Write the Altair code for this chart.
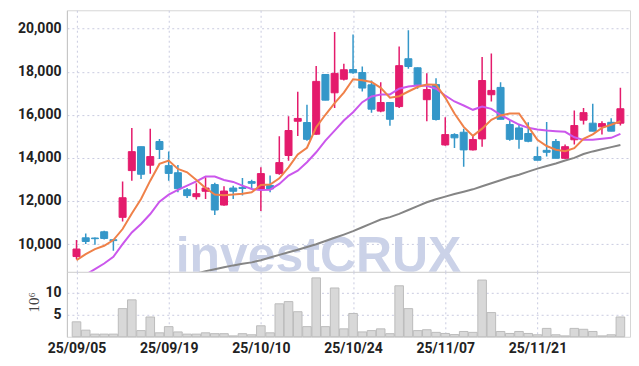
import altair as alt
import pandas as pd

dates = ["25/09/05", "25/09/08", "25/09/09", "25/09/10", "25/09/11", "25/09/12",
         "25/09/15", "25/09/16", "25/09/17", "25/09/18", "25/09/19",
         "25/09/22", "25/09/23", "25/09/24", "25/09/25", "25/09/26",
         "25/09/29", "25/09/30", "25/10/01", "25/10/02", "25/10/10",
         "25/10/13", "25/10/14", "25/10/15", "25/10/16", "25/10/17",
         "25/10/20", "25/10/21", "25/10/22", "25/10/23", "25/10/24",
         "25/10/27", "25/10/28", "25/10/29", "25/10/30", "25/10/31",
         "25/11/03", "25/11/04", "25/11/05", "25/11/06", "25/11/07",
         "25/11/10", "25/11/11", "25/11/12", "25/11/13", "25/11/14",
         "25/11/17", "25/11/18", "25/11/19", "25/11/20", "25/11/21",
         "25/11/24", "25/11/25", "25/11/26", "25/11/27", "25/11/28",
         "25/12/01", "25/12/02", "25/12/03", "25/12/04"]

opens = [9420, 10290, 10280, 10570, 10200, 11240, 13410, 14520, 13660, 14760,
         13640, 13310, 12520, 12200, 12450, 12760, 11810, 12600, 12630, 12900,
         12520, 12720, 13270, 14110, 15700, 15640, 15100, 17870, 17020, 17650,
         18100, 17960, 17390, 16170, 16570, 16380, 18600, 18180, 16700, 17400,
         14600, 15080, 15190, 14370, 14880, 16930, 17270, 15550, 15390, 15130,
         14060, 14350, 14760, 13980, 14840, 15750, 15610, 15440, 15650, 15610]
highs = [10190, 10490, 10300, 10620, 10230, 12900, 15390, 14520, 15350, 14880,
         14300, 13670, 12600, 12820, 13100, 12840, 12680, 12710, 13070, 12990,
         13560, 13180, 15000, 15930, 17070, 16460, 18260, 17880, 19840, 18370,
         19730, 18240, 17590, 17510, 16580, 19170, 19920, 18190, 17930, 17700,
         15890, 15140, 15350, 15040, 18680, 18840, 17510, 15730, 15550, 15650,
         14520, 15670, 14880, 14620, 16200, 16320, 16510, 15700, 15840, 17250]
lows = [9300, 10000, 9970, 10210, 9690, 11050, 12940, 13020, 13260, 13950,
        12940, 12400, 12140, 12070, 12090, 11350, 11780, 12090, 12250, 12560,
        11530, 12400, 13220, 13870, 15020, 14800, 15070, 16670, 16320, 17590,
        17900, 17080, 16090, 16120, 15490, 16320, 18140, 17210, 15700, 15730,
        14560, 14460, 13590, 14340, 14520, 16620, 15790, 14800, 14420, 14720,
        13890, 14060, 13980, 13950, 14620, 15550, 15230, 15080, 15230, 15500]
closes = [9770, 10120, 10250, 10260, 10160, 12150, 14290, 13240, 14060, 14390,
          13280, 12570, 12250, 12340, 12600, 11580, 12460, 12450, 12580, 12820,
          13270, 12560, 13780, 15270, 15830, 14860, 17550, 16680, 17920, 18090,
          17950, 17240, 16260, 16570, 15790, 18280, 18240, 17390, 17170, 15780,
          15080, 14930, 14370, 14850, 17590, 17130, 15790, 14860, 14860, 14770,
          13890, 14260, 13980, 14520, 15500, 16100, 15240, 15590, 15240, 16280]
volumes = [3.4, 1.5, 0.6, 0.6, 0.6, 6.4, 8.4, 1.4, 4.5, 0.9,
           2.3, 1.1, 0.6, 0.6, 0.9, 0.7, 0.7, 0.2, 0.7, 0.45,
           2.5, 0.9, 7.5, 8.0, 5.7, 2.3, 13.4, 2.3, 11.1, 1.8,
           5.3, 1.1, 1.4, 1.8, 0.7, 11.6, 6.4, 1.4, 1.6, 1.0,
           0.75, 0.5, 1.2, 1.0, 12.9, 5.5, 1.2, 0.75, 1.2, 0.75,
           0.45, 1.9, 0.45, 0.2, 1.9, 1.7, 1.2, 0.2, 0.45, 4.5]
ma5 = [9256, 9535, 9767, 9921, 10186, 10697, 11423, 12092, 12943, 13720,
       13873, 13488, 13330, 12976, 12604, 12300, 12270, 12300, 12340, 12400,
       12740, 12760, 13050, 13560, 14160, 14470, 15420, 16000, 16540, 17030,
       17650, 17600, 17520, 17250, 16790, 16860, 17080, 17290, 17410, 17390,
       16800, 16060, 15440, 15020, 15356, 15770, 15970, 16060, 16060, 15450,
       14836, 14550, 14380, 14310, 14450, 14880, 15090, 15390, 15540, 15700]
ma20 = [8330, 8580, 8837, 9098, 9409, 10000, 10541, 10930, 11395, 11967,
        12292, 12511, 12711, 12911, 13130, 13130, 12976, 12883, 12711, 12557,
        12511, 12525, 12790, 13176, 13408, 13795, 14260, 14804, 15268, 15733,
        16120, 16584, 16850, 16943, 16943, 17207, 17314, 17361, 17347, 17207,
        16896, 16617, 16431, 16231, 16385, 16277, 15998, 15766, 15547, 15394,
        15315, 15268, 15236, 15208, 14957, 14836, 14836, 14883, 14929, 15115]
ma60 = [7450, 7540, 7630, 7720, 7810, 7900, 7990, 8080, 8170, 8260,
        8360, 8450, 8540, 8630, 8740, 8830, 8920, 9010, 9090, 9150,
        9250, 9380, 9500, 9620, 9740, 9860, 9990, 10140, 10290, 10440,
        10600, 10780, 10960, 11140, 11250, 11400, 11580, 11760, 11940, 12080,
        12200, 12320, 12430, 12540, 12680, 12820, 12960, 13100, 13220, 13360,
        13500, 13620, 13740, 13880, 14000, 14180, 14300, 14400, 14500, 14600]

tick_idx = [0, 10, 20, 30, 40, 50]
price_ticks = [10000, 12000, 14000, 16000, 18000, 20000]
vol_ticks = [5, 10]

RED = "#e41b6c"
BLUE = "#3497c9"
FONT = "Roboto"
GRID = "#c9cbe0"

df = pd.DataFrame({
    "i": list(range(len(dates))), "date": dates,
    "open": opens, "high": highs, "low": lows, "close": closes,
    "vol": volumes, "ma5": ma5, "ma20": ma20, "ma60": ma60,
})

label_expr = " : ".join(f"datum.value == {i} ? '{dates[i]}'" for i in tick_idx) + " : ''"

xscale = alt.Scale(domain=[-0.5, len(dates) - 0.5], nice=False, zero=False)
x_top = alt.X("i:Q", scale=xscale, axis=alt.Axis(values=tick_idx, labels=False, ticks=False,
                                                 domain=False, title=None, grid=True))
x_bot = alt.X("i:Q", scale=xscale, axis=alt.Axis(values=tick_idx, labelExpr=label_expr, ticks=False,
                                                 domain=False, title=None, grid=True,
                                                 labelPadding=5, labelFontSize=14,
                                                 labelFont=FONT, labelFontWeight="bold",
                                                 labelColor="#222222"))

yscale = alt.Scale(domain=[8710, 20850], nice=False, zero=False)
updown = alt.condition("datum.close >= datum.open", alt.value(RED), alt.value(BLUE))

base = alt.Chart(df).encode(x=x_top)

watermark = alt.Chart(pd.DataFrame({"t": ["investCRUX"]})).mark_text(
    font="Liberation Sans", fontSize=50, fontWeight="bold", color="#cbd2e8",
    align="left", baseline="alphabetic", clip=True
).encode(text="t:N", x=alt.value(109), y=alt.value(262))

gray = base.mark_line(color="#858585", strokeWidth=2, clip=True).encode(
    y=alt.Y("ma60:Q", scale=yscale,
            axis=alt.Axis(values=price_ticks, format=",d", title=None, ticks=False,
                          labelPadding=6, labelFontSize=14, labelFont=FONT,
                          labelFontWeight="bold", labelColor="#222222",
                          domainColor="#c4c4c4", grid=True, minExtent=58)))
wicks = base.mark_rule(strokeWidth=1.5, clip=True).encode(
    y=alt.Y("low:Q", scale=yscale), y2="high:Q", color=updown)
bodies = base.mark_bar(size=7, strokeWidth=1, clip=True).encode(
    y=alt.Y("open:Q", scale=yscale), y2="close:Q", color=updown, stroke=updown)
orange = base.mark_line(color="#ef8149", strokeWidth=2, clip=True).encode(
    y=alt.Y("ma5:Q", scale=yscale))
purple = base.mark_line(color="#cb57ec", strokeWidth=2, clip=True).encode(
    y=alt.Y("ma20:Q", scale=yscale))

price = alt.layer(watermark, gray, wicks, bodies, purple, orange).properties(width=564, height=262)

volume = alt.Chart(df).mark_bar(size=8.6, fill="#d8d8d8", stroke="#bcbcbc", strokeWidth=1).encode(
    x=x_bot,
    y=alt.Y("vol:Q", scale=alt.Scale(domain=[0, 14.77], nice=False),
            axis=alt.Axis(values=vol_ticks, format="d", title="10⁶", ticks=False,
                          labelPadding=6, labelFontSize=14, labelFont=FONT,
                          labelFontWeight="bold", labelColor="#222222",
                          domainColor="#c4c4c4", grid=True, minExtent=58,
                          titleFont="Liberation Serif", titleFontSize=15,
                          titleFontWeight="normal", titleColor="#444444",
                          titleX=-33, titleY=30, titleBaseline="middle", titleAlign="center"))
).properties(width=564, height=65)

chart = alt.vconcat(price, volume, spacing=0, bounds="flush").properties(
    padding={"left": 0, "top": 1, "right": 0, "bottom": 2}
).configure_view(stroke="#d6d6d6").configure_axis(
    gridColor=GRID, gridDash=[2, 3], gridWidth=1
)

chart.save("out.html", embed_options={"renderer": "svg", "actions": False})
